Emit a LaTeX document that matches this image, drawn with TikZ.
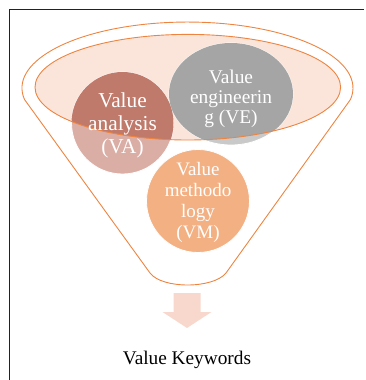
\documentclass[tikz,border=0pt]{standalone}
\usepackage{fontspec}
\setmainfont{Liberation Serif}
\definecolor{fun}{HTML}{EE8440}
\definecolor{innerfill}{HTML}{FBE5DA}
\definecolor{vadark}{HTML}{BF7A6B}
\definecolor{valight}{HTML}{DAADA5}
\definecolor{vedark}{HTML}{A5A5A5}
\definecolor{velight}{HTML}{C9C9C9}
\definecolor{vmcol}{HTML}{F3B083}
\definecolor{arrowcol}{HTML}{F8D8CC}
\definecolor{framecol}{HTML}{222222}
\tikzset{
  ctext/.style={inner sep=0pt, align=center, text=white},
  shapeborder/.style={draw=white, line width=0.8pt},
}
\begin{document}
\begin{tikzpicture}[x=1pt,y=-1pt]
\useasboundingbox (0,0) rectangle (366,380);
% frame
\draw[framecol, line width=1pt] (9.5,380) -- (9.5,9.5) -- (364,9.5);
% funnel outline
\draw[fun, line width=0.9pt]
  (24.5,99.5) arc[start angle=190, end angle=-10, x radius=165.5pt, y radius=66pt]
  -- (226,273) .. controls (213,289) and (162,289) .. (150,273) -- cycle;
% inner ellipse fill
\fill[innerfill] (187.8,87.2) ellipse[x radius=152.8pt, y radius=52.8pt];
% light shapes
\fill[valight, shapeborder] (122.5,123) circle[radius=51pt];
\fill[velight, shapeborder] (231,94) ellipse[x radius=62pt, y radius=51pt];
\fill[vmcol, shapeborder] (198,201) circle[radius=51.5pt];
% dark parts inside inner ellipse
\begin{scope}
  \clip (187.8,87.2) ellipse[x radius=152.8pt, y radius=52.8pt];
  \fill[vadark] (122.5,123) circle[radius=51pt];
  \fill[vedark] (231,94) ellipse[x radius=62pt, y radius=51pt];
\end{scope}
% inner ellipse border
\draw[fun, line width=0.9pt] (187.8,87.2) ellipse[x radius=152.8pt, y radius=52.8pt];
% texts
\node[ctext, font=\fontsize{21.3}{23}\selectfont] (va) at (122.5,125) {Value\\analysis\\(VA)};
\node[ctext, font=\fontsize{19.4}{20}\selectfont] (ve) at (231,99) {Value\\engineerin\\g (VE)};
\node[ctext, font=\fontsize{19}{21}\selectfont] (vm) at (198,202.4) {Value\\methodo\\logy\\(VM)};
% arrow
\fill[arrowcol] (173.5,293) -- (200.5,293) -- (200.5,312) -- (211.5,312) -- (187,328) -- (162.5,312) -- (173.5,312) -- cycle;
\node[inner sep=0pt, font=\fontsize{19.3}{22}\selectfont, text=black] (kw) at (187,360) {Value Keywords};
\end{tikzpicture}
\end{document}
